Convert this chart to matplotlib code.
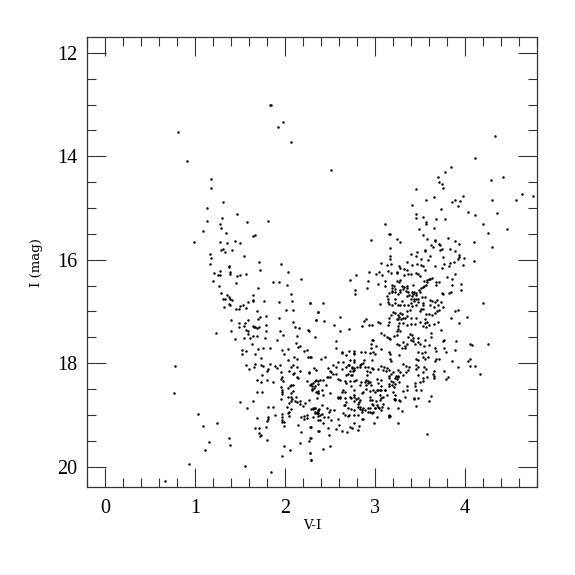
import matplotlib

matplotlib.use('Agg')
import matplotlib.pyplot as plt
import matplotlib.ticker as mticker
import numpy as np

# (V-I, I), grouped by part of the diagram
left_bright = [
    (1.83, 13.0), (1.84, 13.01), (1.98, 13.34), (1.92, 13.44), (2.06, 13.72), (0.81, 13.53), (0.91, 14.10),
    (1.18, 14.44), (1.18, 14.62), (1.31, 14.88), (1.13, 15.0), (1.46, 15.12), (1.30, 15.19), (1.13, 15.26),
    (1.27, 15.30), (1.58, 15.27), (1.81, 15.26), (1.29, 15.39), (1.09, 15.44), (1.34, 15.48), (1.64, 15.55),
    (1.66, 15.52), (0.99, 15.65), (1.28, 15.66), (1.35, 15.68), (1.44, 15.64), (1.50, 15.68), (1.31, 15.79),
    (1.29, 15.82), (1.33, 15.86), (1.41, 15.81), (1.16, 15.89), (1.17, 15.96), (1.54, 15.93), (1.71, 16.05),
    (1.95, 16.08), (1.16, 16.09), (1.37, 16.12), (1.37, 16.14), (1.72, 16.19),
]
left_mid = [
    (2.03, 16.23), (1.28, 16.22), (1.21, 16.26), (1.25, 16.30), (1.27, 16.29), (1.39, 16.24), (1.39, 16.28),
    (1.46, 16.31), (1.50, 16.30), (1.56, 16.28), (1.20, 16.41), (1.45, 16.45), (1.26, 16.50), (1.87, 16.44),
    (1.93, 16.43), (2.18, 16.38), (2.02, 16.49), (1.70, 16.54), (2.06, 16.66), (1.29, 16.65), (1.64, 16.68),
    (1.35, 16.68), (1.31, 16.75), (1.33, 16.75), (1.38, 16.72), (1.39, 16.76), (1.41, 16.77), (1.64, 16.77),
    (1.64, 16.79), (1.59, 16.81), (1.76, 16.79), (1.93, 16.82), (2.08, 16.79), (2.28, 16.83), (1.38, 16.86),
    (1.39, 16.88), (1.53, 16.88), (1.50, 16.90), (1.32, 16.92), (1.45, 16.95), (1.49, 16.95), (1.57, 16.94),
    (2.01, 16.98), (2.09, 16.98), (1.69, 17.0), (2.37, 17.02), (1.79, 17.08), (1.72, 17.10), (1.70, 17.14),
    (1.93, 17.13), (1.40, 17.17), (1.59, 17.17), (2.34, 17.17), (1.49, 17.22), (1.55, 17.23), (1.54, 17.28),
    (1.49, 17.30), (1.64, 17.28), (1.65, 17.30), (1.67, 17.31), (1.69, 17.32), (1.71, 17.30), (1.79, 17.26),
    (2.09, 17.20), (2.11, 17.30), (2.15, 17.32), (1.23, 17.41), (1.40, 17.37), (1.57, 17.36), (1.59, 17.37),
    (1.79, 17.37), (1.94, 17.37), (2.25, 17.36), (2.27, 17.38), (1.59, 17.44), (1.98, 17.45), (1.44, 17.53),
    (1.54, 17.52), (1.61, 17.52), (1.64, 17.48), (1.69, 17.48), (1.78, 17.52), (2.13, 17.48), (2.33, 17.49),
    (1.91, 17.56), (1.63, 17.62), (2.12, 17.61), (2.14, 17.68), (2.16, 17.66), (1.75, 17.70), (1.70, 17.73),
    (1.83, 17.71), (1.52, 17.75), (1.57, 17.77), (1.52, 17.83), (1.67, 17.82), (1.97, 17.75), (1.99, 17.82),
    (2.03, 17.72), (2.24, 17.75), (2.21, 17.77), (2.25, 17.88), (2.28, 17.89), (2.10, 17.89), (2.13, 17.92),
    (2.03, 17.94), (1.73, 17.90),
]
left_faint = [
    (0.77, 18.06), (0.76, 18.57), (1.56, 18.04), (1.60, 18.12), (1.65, 18.08), (1.66, 18.02), (1.73, 18.03),
    (1.75, 18.06), (1.83, 18.01), (1.89, 18.06), (1.91, 18.10), (1.94, 18.04), (1.81, 18.12), (1.80, 18.15),
    (1.95, 18.18), (1.74, 18.22), (2.09, 18.04), (2.06, 18.08), (2.13, 18.08), (2.04, 18.15), (2.09, 18.21),
    (2.10, 18.19), (2.17, 18.16), (2.27, 18.17), (2.27, 18.19), (2.32, 18.10), (2.34, 18.14), (1.96, 18.26),
    (1.95, 18.30), (2.13, 18.27), (2.14, 18.28), (1.69, 18.32), (1.73, 18.36), (1.80, 18.32), (1.87, 18.37),
    (1.98, 18.34), (2.24, 18.35), (2.34, 18.33), (2.31, 18.38), (2.37, 18.35), (2.28, 18.42), (2.30, 18.45),
    (2.32, 18.48), (2.36, 18.57), (2.34, 18.55), (2.37, 18.53), (2.30, 18.52), (1.95, 18.46), (1.96, 18.52),
    (1.97, 18.55), (1.97, 18.59), (2.09, 18.42), (2.07, 18.43), (2.05, 18.45), (2.03, 18.48), (2.09, 18.53),
    (2.06, 18.58), (1.69, 18.56), (1.74, 18.56), (1.95, 18.69), (2.03, 18.65), (2.06, 18.65), (2.12, 18.66),
    (2.08, 18.70), (2.06, 18.73), (2.11, 18.73), (2.13, 18.75), (2.16, 18.73), (2.16, 18.78), (2.04, 18.77),
    (2.22, 18.77), (2.20, 18.82), (2.27, 18.72), (2.35, 18.67), (1.50, 18.75), (1.64, 18.73), (1.58, 18.86),
    (1.81, 18.85), (1.87, 18.85), (2.02, 18.85), (2.07, 18.88), (2.04, 18.94), (1.89, 19.0), (1.96, 18.99),
    (2.03, 18.96), (2.04, 19.02), (2.29, 18.88), (2.31, 18.88), (2.33, 18.87), (2.33, 18.95), (2.35, 18.97),
    (2.36, 18.92), (2.37, 18.91), (2.37, 18.97), (2.31, 19.05), (2.37, 19.02), (2.37, 19.10), (2.18, 19.04),
    (2.21, 19.02), (2.24, 19.0), (2.21, 19.07), (2.24, 19.06), (1.69, 19.06), (1.81, 19.05), (1.81, 19.08),
    (1.80, 19.12), (1.96, 19.05), (1.97, 19.10), (1.99, 19.14), (1.96, 19.13), (1.99, 19.21), (2.14, 19.19),
    (2.29, 19.24), (2.37, 19.32), (2.18, 19.33), (1.79, 19.23), (1.66, 19.25), (1.71, 19.25), (1.71, 19.35),
    (1.72, 19.40), (1.73, 19.39), (1.80, 19.49), (2.29, 19.45), (2.27, 19.50), (2.17, 19.55), (1.99, 19.60),
    (2.05, 19.67), (1.97, 19.80), (2.28, 19.74), (2.29, 19.88), (1.03, 18.99), (1.09, 19.21), (1.24, 19.15),
    (1.15, 19.52), (1.11, 19.68), (1.37, 19.45), (1.39, 19.58), (0.93, 19.95), (1.55, 19.99), (1.84, 20.11),
    (0.66, 20.28),
]
right_bright = [
    (4.33, 13.61), (4.11, 14.04), (3.84, 14.21), (3.78, 14.30), (3.70, 14.40), (3.71, 14.50), (3.74, 14.54),
    (3.75, 14.61), (3.45, 14.64), (4.29, 14.46), (4.42, 14.40), (4.63, 14.72), (4.75, 14.77), (4.57, 14.84),
    (4.30, 14.84), (3.98, 14.77), (3.94, 14.86), (3.89, 14.85), (3.86, 14.88), (3.92, 14.97), (3.57, 14.84),
    (3.66, 14.79), (3.41, 14.94), (2.51, 14.26), (3.73, 15.02), (4.03, 15.08), (4.11, 15.13), (4.35, 15.10),
    (3.46, 15.11), (3.45, 15.19), (3.53, 15.18), (3.68, 15.22), (3.78, 15.22), (3.57, 15.28), (3.57, 15.30),
    (3.11, 15.30), (4.20, 15.31), (3.66, 15.39), (3.49, 15.41), (4.47, 15.40), (4.25, 15.48), (3.16, 15.50),
    (3.17, 15.51), (3.53, 15.52), (3.24, 15.59), (2.95, 15.62), (3.28, 15.66), (3.58, 15.59), (3.67, 15.61),
    (3.67, 15.63), (3.81, 15.58), (3.89, 15.64), (3.93, 15.70), (4.10, 15.65), (3.62, 15.72), (3.71, 15.70),
    (3.72, 15.72), (3.64, 15.75), (3.17, 15.77), (3.83, 15.79), (4.30, 15.75), (3.72, 15.81), (3.74, 15.80),
    (3.55, 15.82), (3.56, 15.83), (3.89, 15.84), (3.40, 15.88), (3.47, 15.85), (3.46, 15.92), (3.51, 15.98),
    (3.61, 15.92), (3.17, 15.93), (3.17, 15.98), (3.75, 15.95), (3.93, 15.90), (3.93, 15.94), (3.92, 15.99),
    (3.99, 15.96),
]
right_mid = [
    (3.59, 16.01), (3.88, 16.04), (3.83, 16.06), (4.10, 16.02), (3.07, 16.06), (3.13, 16.10), (3.18, 16.09),
    (3.36, 16.04), (3.41, 16.10), (3.47, 16.08), (3.51, 16.10), (3.53, 16.12), (3.55, 16.19), (3.67, 16.13),
    (3.77, 16.09), (3.82, 16.12), (3.74, 16.16), (3.98, 16.10), (3.27, 16.13), (3.28, 16.16), (3.32, 16.17),
    (3.36, 16.20), (3.14, 16.22), (3.18, 16.25), (3.24, 16.24), (3.24, 16.26), (2.93, 16.24), (3.01, 16.27),
    (3.04, 16.24), (3.08, 16.30), (2.79, 16.30), (3.32, 16.29), (3.37, 16.28), (3.40, 16.28), (3.46, 16.26),
    (3.48, 16.28), (3.50, 16.32), (3.89, 16.28), (3.80, 16.34), (3.85, 16.37), (2.72, 16.40), (2.92, 16.41),
    (3.11, 16.42), (3.63, 16.36), (3.61, 16.37), (3.60, 16.38), (3.58, 16.39), (3.54, 16.41), (3.28, 16.39),
    (3.24, 16.41), (3.27, 16.43), (3.68, 16.44), (3.71, 16.43), (3.68, 16.48), (3.58, 16.44), (3.57, 16.49),
    (3.54, 16.50), (3.85, 16.49), (3.95, 16.47), (3.95, 16.59), (3.03, 16.46), (2.91, 16.55), (2.78, 16.59),
    (2.78, 16.66), (3.11, 16.50), (3.19, 16.49), (3.21, 16.51), (3.19, 16.54), (3.22, 16.57), (3.30, 16.50),
    (3.32, 16.52), (3.35, 16.50), (3.36, 16.55), (3.42, 16.49), (3.31, 16.57), (3.19, 16.60), (3.28, 16.59),
    (3.34, 16.61), (3.37, 16.63), (3.16, 16.64), (3.19, 16.63), (3.22, 16.63), (3.26, 16.66), (3.28, 16.63),
    (3.41, 16.63), (3.43, 16.63), (3.45, 16.65), (3.42, 16.67), (3.46, 16.68), (3.41, 16.70), (3.49, 16.59),
    (3.51, 16.55), (3.53, 16.52), (3.50, 16.62), (3.13, 16.71), (3.14, 16.75), (3.22, 16.75), (3.30, 16.80),
    (3.36, 16.70), (3.38, 16.68), (3.40, 16.76), (3.43, 16.75), (3.46, 16.76), (3.48, 16.76), (3.52, 16.72),
    (3.56, 16.72), (3.43, 16.80), (3.40, 16.83), (3.48, 16.81), (3.53, 16.83), (3.61, 16.77), (3.63, 16.79),
    (3.69, 16.78), (3.67, 16.81), (3.73, 16.82), (3.74, 16.65), (3.76, 16.67), (3.82, 16.64), (3.84, 16.62),
    (4.20, 16.83), (3.05, 16.85), (3.14, 16.82), (3.16, 16.86), (3.19, 16.88), (3.22, 16.84), (3.26, 16.88),
    (3.28, 16.88), (3.32, 16.88), (3.37, 16.88), (3.41, 16.89), (3.46, 16.88), (3.53, 16.88), (3.61, 16.88),
    (3.65, 16.92), (3.70, 16.88), (3.75, 16.91), (3.39, 16.98), (3.51, 16.96), (3.53, 16.96), (3.50, 17.0),
    (3.71, 16.98), (3.69, 17.0), (3.67, 17.03), (3.92, 16.97), (3.89, 17.0), (3.57, 17.04), (3.60, 17.05),
    (3.63, 17.07), (3.20, 17.01), (3.22, 17.03), (3.28, 17.03), (3.30, 17.05), (3.36, 17.0), (3.18, 17.06),
    (3.25, 17.07), (3.27, 17.10), (3.29, 17.14), (3.31, 17.12), (3.33, 17.13), (3.35, 17.08), (3.16, 17.13),
    (3.24, 17.14), (3.26, 17.14), (3.40, 17.13), (3.45, 17.13), (3.56, 17.14), (3.84, 17.13), (4.02, 17.10),
    (2.37, 17.02), (2.28, 16.84), (2.42, 16.84), (2.61, 17.10), (2.90, 17.15),
]
right_lower = [
    (2.34, 17.17), (2.43, 17.18), (2.54, 17.27), (2.61, 17.37), (2.71, 17.34), (2.85, 17.28), (2.88, 17.18),
    (2.93, 17.27), (2.97, 17.26), (3.03, 17.21), (3.05, 17.23), (3.14, 17.27), (3.15, 17.20), (3.27, 17.22),
    (3.31, 17.23), (3.35, 17.27), (3.40, 17.25), (3.44, 17.24), (3.50, 17.20), (3.55, 17.23), (3.58, 17.20),
    (3.60, 17.26), (3.65, 17.24), (3.70, 17.20), (3.93, 17.23), (3.26, 17.29), (3.26, 17.33), (3.24, 17.37),
    (3.28, 17.38), (3.53, 17.28), (3.57, 17.31), (3.73, 17.36), (3.62, 17.42), (3.06, 17.42), (3.10, 17.45),
    (3.24, 17.45), (3.21, 17.47), (3.13, 17.50), (3.16, 17.51), (3.17, 17.54), (3.39, 17.43), (3.41, 17.46),
    (3.37, 17.49), (3.42, 17.51), (3.48, 17.52), (3.40, 17.55), (3.42, 17.58), (3.44, 17.62), (3.48, 17.60),
    (3.50, 17.63), (3.55, 17.56), (3.62, 17.49), (3.75, 17.58), (3.77, 17.56), (3.90, 17.57), (4.06, 17.62),
    (4.08, 17.65), (4.26, 17.63), (2.56, 17.58), (2.57, 17.70), (2.97, 17.55), (2.98, 17.55), (2.95, 17.63),
    (3.01, 17.67), (3.07, 17.73), (2.95, 17.71), (2.98, 17.78), (3.00, 17.83), (2.94, 17.80), (3.24, 17.62),
    (3.27, 17.64), (3.31, 17.60), (3.33, 17.66), (3.35, 17.62), (3.30, 17.70), (3.33, 17.70), (3.60, 17.65),
    (3.54, 17.67), (3.55, 17.79), (3.52, 17.80), (3.48, 17.78), (3.46, 17.91), (3.48, 17.93), (3.53, 17.89),
    (3.55, 17.92), (3.59, 17.89), (3.67, 17.71), (3.68, 17.76), (3.77, 17.71), (3.79, 17.78), (3.89, 17.74),
    (3.68, 17.92), (3.71, 17.91), (3.67, 17.95), (3.85, 17.95), (4.03, 17.96), (4.06, 17.91), (3.92, 18.07),
    (4.05, 18.05), (4.11, 18.05), (4.17, 18.21), (3.16, 17.78), (3.17, 17.83), (3.17, 17.91), (3.27, 17.85),
    (3.18, 17.96), (2.76, 17.82), (2.63, 17.81), (2.63, 17.78), (2.71, 17.76), (2.76, 17.76), (2.84, 17.78),
    (2.89, 17.78), (2.77, 17.81), (2.68, 17.84), (2.72, 17.94), (2.77, 17.93), (2.77, 17.97), (2.44, 17.89),
    (2.40, 17.92), (2.29, 17.89), (2.88, 17.94), (2.84, 18.02), (2.59, 17.97), (2.64, 17.97),
]
right_faint = [
    (2.53, 18.04), (2.48, 18.10), (2.57, 18.08), (2.63, 18.12), (2.68, 18.07), (2.74, 18.07), (2.71, 18.04),
    (2.80, 18.08), (2.83, 18.07), (2.77, 18.10), (2.75, 18.16), (2.70, 18.20), (2.73, 18.23), (2.68, 18.22),
    (2.92, 18.07), (2.96, 17.94), (2.97, 18.10), (2.98, 18.11), (3.03, 18.11), (2.91, 18.15), (2.94, 18.18),
    (2.91, 18.23), (3.07, 18.05), (3.10, 18.08), (3.13, 18.10), (3.09, 18.13), (3.12, 18.15), (3.31, 18.02),
    (3.34, 18.05), (3.38, 18.07), (3.37, 18.13), (3.34, 18.18), (3.46, 18.04), (3.48, 18.08), (3.45, 18.11),
    (3.54, 18.07), (3.57, 18.11), (3.53, 18.18), (3.66, 18.15), (3.64, 18.20), (3.65, 18.25), (3.65, 18.29),
    (3.77, 18.16), (3.81, 18.26), (3.79, 18.31), (3.16, 18.13), (3.25, 18.13), (3.28, 18.17), (3.20, 18.18),
    (3.23, 18.24), (3.26, 18.24), (3.31, 18.23), (3.18, 18.20), (3.15, 18.24), (3.18, 18.35), (3.20, 18.36),
    (3.22, 18.40), (3.27, 18.37), (3.16, 18.40), (3.48, 18.23), (3.53, 18.29), (3.58, 18.26), (3.44, 18.38),
    (3.50, 18.36), (3.53, 18.34), (3.44, 18.44), (3.45, 18.52), (3.51, 18.51), (3.35, 18.44), (3.36, 18.52),
    (3.31, 18.54), (3.33, 18.65), (3.28, 18.74), (3.21, 18.70), (3.22, 18.70), (3.62, 18.63), (3.60, 18.73),
    (3.43, 18.70), (3.48, 18.67), (3.46, 18.82), (3.43, 18.68), (3.25, 18.86), (3.30, 18.92), (3.16, 19.02),
    (3.15, 19.04), (3.26, 19.15), (3.58, 19.37), (3.02, 18.31), (3.07, 18.33), (3.03, 18.39), (2.92, 18.34),
    (2.89, 18.36), (2.94, 18.36), (2.84, 18.37), (2.79, 18.33), (2.77, 18.34), (2.72, 18.35), (2.66, 18.35),
    (2.59, 18.30), (2.51, 18.18), (2.46, 18.26), (2.50, 18.26), (2.42, 18.33), (2.39, 18.33), (2.33, 18.34),
    (2.29, 18.40), (2.33, 18.45), (2.37, 18.40), (2.41, 18.52), (2.45, 18.42), (2.50, 18.58), (2.36, 18.57),
    (2.30, 18.49), (2.42, 18.62), (2.61, 18.66), (2.59, 18.68), (2.64, 18.52), (2.68, 18.39), (2.73, 18.44),
    (2.77, 18.52), (2.83, 18.42), (2.87, 18.55), (2.90, 18.49), (2.94, 18.53), (2.98, 18.51), (3.02, 18.52),
    (3.05, 18.51), (3.07, 18.44), (3.11, 18.51), (2.94, 18.65), (2.96, 18.71), (3.01, 18.73), (3.07, 18.68),
    (3.09, 18.78), (3.14, 18.86), (3.08, 18.84), (3.04, 18.87), (3.00, 18.86), (2.94, 18.94), (2.98, 18.94),
    (3.02, 19.05), (2.99, 19.16), (2.92, 18.86), (2.89, 18.90), (2.81, 18.84), (2.83, 18.89), (2.85, 18.94),
    (2.85, 19.07), (2.81, 18.68), (2.82, 18.76), (2.79, 18.70), (2.72, 18.66), (2.77, 18.66), (2.68, 18.76),
    (2.65, 18.81), (2.73, 18.89), (2.64, 18.97), (2.71, 19.0), (2.66, 19.0), (2.70, 19.02), (2.77, 19.0),
    (2.59, 19.07), (2.60, 19.20), (2.57, 19.28), (2.63, 19.31), (2.69, 19.33), (2.72, 19.23), (2.74, 19.26),
    (2.77, 19.16), (2.82, 19.22), (2.81, 19.29), (2.50, 18.91), (2.54, 18.91), (2.46, 18.87), (2.41, 18.80),
    (2.38, 18.89), (2.33, 18.87), (2.31, 18.87), (2.35, 18.96), (2.33, 18.97), (2.39, 19.0), (2.41, 18.98),
    (2.43, 19.04), (2.49, 18.94), (2.48, 19.04), (2.51, 19.10), (2.42, 19.15), (2.48, 19.26), (2.38, 19.31),
    (2.49, 19.39), (2.50, 19.60), (2.42, 19.66), (2.28, 19.45), (2.28, 19.73), (2.29, 19.87), (2.28, 19.24),
    (2.39, 19.10),
]
# second pass over the dense part of the clump
clump_extra = [
    (3.15, 18.29), (3.19, 18.42), (3.21, 18.46), (3.22, 18.29), (3.26, 18.26), (3.15, 18.45), (3.24, 18.31),
    (2.90, 18.33), (2.92, 18.38), (2.90, 18.42), (2.95, 18.42), (3.03, 18.52), (3.07, 18.52), (3.11, 18.52),
    (3.00, 18.55), (3.05, 18.62), (3.09, 18.65), (3.13, 18.62), (3.05, 18.71), (2.94, 18.71), (2.96, 18.78),
    (2.98, 18.81), (3.02, 18.81), (2.94, 18.87), (3.00, 18.87), (3.03, 18.84), (3.07, 18.91), (2.87, 18.87),
    (2.83, 18.84), (2.85, 18.91), (2.81, 18.78), (2.83, 18.71), (2.77, 18.62), (2.85, 18.58), (2.76, 18.74),
    (2.66, 18.81), (2.66, 18.68), (2.61, 18.68), (2.59, 18.65), (2.63, 18.55), (2.66, 18.55), (2.73, 18.68),
    (2.70, 18.87), (2.76, 18.91), (2.92, 18.94), (2.96, 18.97), (2.87, 19.07), (2.81, 19.0), (3.15, 19.0),
    (3.17, 19.02), (3.22, 18.71), (3.27, 18.71), (3.22, 18.62), (3.20, 18.55), (2.70, 18.03), (2.74, 18.10),
    (2.76, 18.13), (2.72, 18.16), (2.74, 18.23), (2.83, 18.03), (2.87, 18.0), (2.89, 18.07), (2.53, 18.2),
    (2.48, 18.26), (2.50, 18.16), (2.57, 18.2), (2.61, 18.33),
]

x_ticks = [0, 1, 2, 3, 4]
y_ticks = [12, 14, 16, 18, 20]
_INK = '#333333'

plt.rcParams['font.family'] = ['DejaVu Serif']

stars = np.array(
    left_bright + left_mid + left_faint + right_bright + right_mid + right_lower + right_faint + clump_extra
)

fig = plt.figure(figsize=(5.75, 5.75), dpi=100)
ax = fig.add_axes([87.3 / 575, 1 - 487.3 / 575, 449.7 / 575, 450 / 575])
ax.scatter(stars[:, 0], stars[:, 1], s=3.2, color='black', linewidths=0)

ax.set_xlim(-0.2, 4.8)
ax.set_ylim(20.4, 11.7)
ax.set_xticks(x_ticks)
ax.set_yticks(y_ticks)
ax.xaxis.set_minor_locator(mticker.MultipleLocator(0.2))
ax.yaxis.set_minor_locator(mticker.MultipleLocator(0.5))
ax.tick_params(which='major', direction='in', length=13.7, width=0.8, color=_INK, top=True, right=True)
ax.tick_params(which='minor', direction='in', length=6.8, width=0.8, color=_INK, top=True, right=True)
ax.tick_params(axis='x', which='major', pad=8.5)
ax.tick_params(axis='y', which='major', pad=7)
for lab in ax.get_xticklabels() + ax.get_yticklabels():
    lab.set_fontfamily('Liberation Serif')
    lab.set_fontsize(14.5)
for spine in ax.spines.values():
    spine.set_linewidth(0.9)
    spine.set_color(_INK)

ax.set_xlabel('V-I', fontsize=9.5, labelpad=1)
ax.set_ylabel('I (mag)', fontsize=9.5, labelpad=10.5)

fig.savefig('out.png', dpi=100)
